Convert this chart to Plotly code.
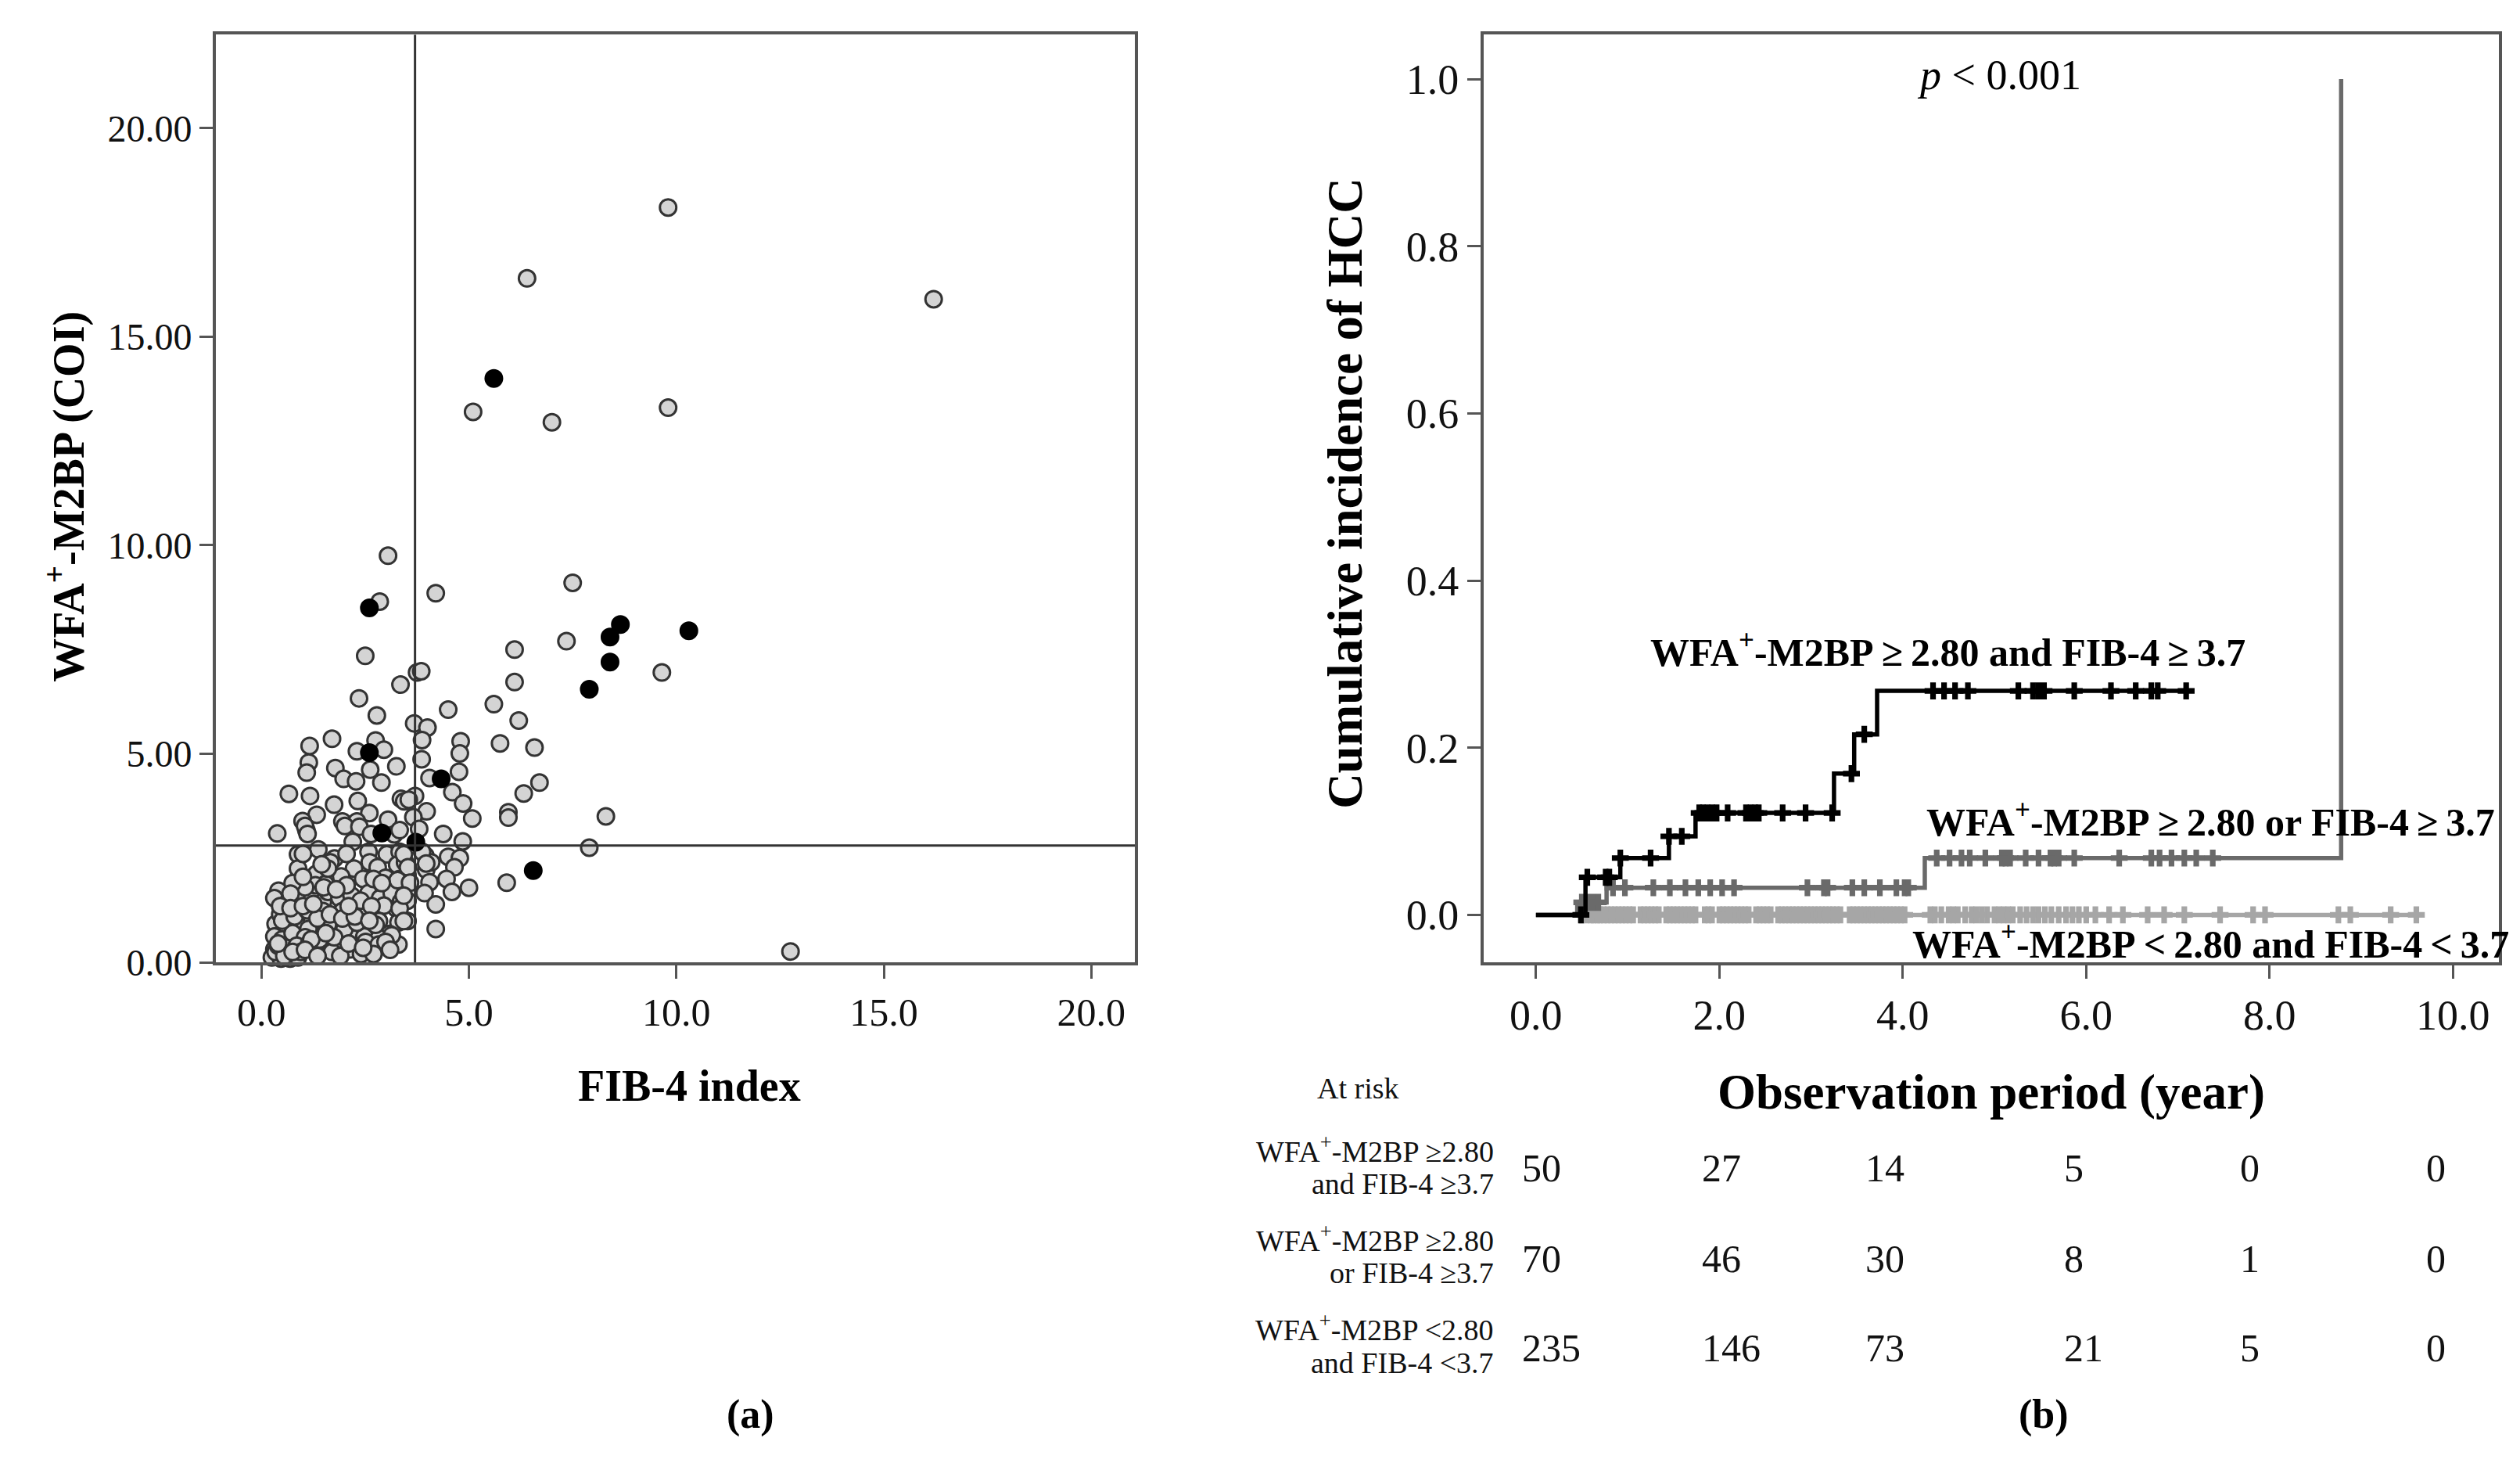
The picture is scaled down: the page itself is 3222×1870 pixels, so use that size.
import numpy as np
import plotly.graph_objects as go

W, H = 3222, 1870
FONT = "Liberation Serif"

# ---------------- Panel (a) data: FIB-4 index vs WFA+-M2BP ----------------
gray_x = [9.8, 6.4, 16.2, 5.1, 7.0, 9.8, 3.05, 4.2, 7.5, 2.85, 7.35, 6.1, 2.5, 3.75, 3.85, 9.65, 6.1, 3.35,
          2.35, 5.6, 4.5, 2.78, 6.2, 3.68, 4.0,
          3.87, 4.8, 1.7, 2.75, 1.16, 5.75, 6.58, 2.95, 2.3, 4.78, 3.86, 3.25, 1.14, 1.09, 1.78, 1.98, 2.28,
          2.62, 2.89, 4.76, 4.05, 6.7, 0.66, 1.17, 1.75, 2.32, 3.36, 3.44, 3.7, 4.6, 4.86, 6.32, 5.95, 5.95,
          8.3, 1.33, 0.99, 2.6, 1.95, 2.3, 3.05, 3.98, 3.66, 5.08, 3.55,
          1.08, 0.38, 1.05, 1.11, 2.01, 2.36, 2.64, 2.2, 3.2, 3.33, 3.8, 4.38, 4.85, 7.9,
          0.88, 1.37, 1.76, 2.58, 3.02, 3.33, 0.88, 1.32, 1.66, 2.23, 2.61, 2.8, 3.27, 1.92, 2.45, 2.99, 3.33,
          1.54, 0.41, 0.31, 0.66, 0.97, 1.22, 1.48, 1.6, 1.88, 2.17, 2.58, 2.86, 3.14, 3.25, 2.95, 0.34, 0.59,
          0.91, 1.22, 1.48, 1.73, 1.95, 2.2, 2.51, 2.83, 3.3, 2.39, 0.56, 0.91, 0.63, 0.31, 1.41, 1.95, 2.2,
          2.48, 3.08, 2.83, 1.13, 0.31, 0.56, 0.81, 1.29, 1.82, 2.14, 2.51, 2.83, 0.25, 0.47, 0.69, 0.88, 0.34,
          3.36, 3.3,
          3.95, 4.5, 4.78, 3.97, 4.65, 4.09, 4.05, 4.46, 3.93, 4.59, 5.0, 4.2, 4.2, 5.91, 3.52, 3.52, 3.52,
          3.46, 3.46, 3.43, 3.87, 3.53, 3.97, 3.28, 3.58, 3.33, 3.43, 3.14, 2.99, 3.43,
          0.5, 0.75, 1.05, 1.6, 1.7, 2.0, 2.3, 2.65, 1.3, 1.05, 0.75, 2.05, 2.7, 1.6, 2.05, 1.0, 0.45, 1.45,
          1.9, 2.4, 2.9, 0.7, 1.15, 1.55, 2.7, 0.4, 1.0,
          0.6, 0.85, 1.15, 1.4, 1.75, 2.1, 2.45, 2.75, 3.1, 0.5, 0.8, 1.1, 1.35, 1.65, 1.95, 2.25, 2.6,
          0.45, 0.7, 1.0, 1.25, 1.5, 1.8, 2.1, 0.55, 0.95, 1.2, 1.55, 0.4, 0.75, 1.05, 1.35,
          12.75]
gray_y = [18.1, 16.4, 15.9, 13.2, 12.95, 13.3, 9.75, 8.85, 9.1, 8.65, 7.7, 7.5, 7.35, 6.95, 6.98, 6.95, 6.72, 6.66,
          6.33, 6.19, 6.06, 5.92, 5.8, 5.73, 5.63,
          5.33, 5.3, 5.36, 5.32, 5.19, 5.25, 5.15, 5.1, 5.06, 5.01, 4.87, 4.7, 4.79, 4.55, 4.66, 4.4, 4.34,
          4.62, 4.31, 4.57, 4.42, 4.31, 4.04, 3.99, 3.78, 3.87, 3.92, 3.86, 3.99, 4.08, 3.81, 4.05, 3.6, 3.47,
          3.5, 3.54, 3.39, 3.58, 3.38, 3.38, 3.42, 3.62, 3.48, 3.45, 3.9,
          3.17, 3.09, 3.27, 3.08, 3.27, 3.25, 3.08, 2.89, 3.07, 3.17, 3.2, 3.08, 2.9, 2.75,
          2.59, 2.71, 2.49, 2.65, 2.59, 2.65, 2.25, 2.12, 2.4, 2.25, 2.4, 2.28, 2.34, 2.06, 2.0, 2.03, 2.0,
          1.88, 1.72, 1.54, 1.48, 1.48, 1.63, 1.45, 1.69, 1.54, 1.6, 1.66, 1.54, 1.66, 1.29, 1.36, 0.92, 1.14,
          1.2, 0.99, 1.23, 0.96, 1.23, 1.29, 1.14, 0.99, 0.96, 1.48, 0.83, 0.49, 0.49, 0.62, 0.65, 0.52, 0.71,
          0.62, 0.68, 0.58, 0.8, 0.31, 0.22, 0.18, 0.34, 0.43, 0.31, 0.49, 0.43, 0.12, 0.09, 0.09, 0.12, 0.25,
          1.45, 0.43,
          2.56, 2.53, 2.5, 2.22, 2.28, 2.4, 1.92, 2.0, 1.66, 1.69, 1.79, 1.39, 0.8, 1.91, 2.09, 1.48, 0.99,
          2.4, 1.92, 2.59, 2.65, 2.28, 2.37, 1.97, 1.91, 1.29, 0.99, 0.65, 0.49, 1.6,
          0.55, 0.7, 0.6, 0.9, 0.25, 0.8, 0.95, 1.35, 1.85, 1.8, 1.9, 1.85, 2.0, 2.25, 2.6, 2.6, 1.15, 2.35,
          0.15, 0.2, 1.9, 1.65, 1.35, 0.7, 0.2, 0.4, 2.05,
          0.35, 0.4, 0.45, 0.55, 0.6, 0.45, 0.35, 0.9, 0.3, 1.0, 1.1, 1.25, 1.05, 1.15, 1.05, 1.1, 1.0,
          1.35, 1.3, 1.35, 1.4, 1.8, 1.75, 1.35, 0.15, 0.25, 0.55, 0.7, 0.45, 0.25, 0.3, 0.15,
          0.26]
black_x = [5.6, 2.6, 8.65, 8.4, 10.3, 8.4, 7.9, 2.6, 4.33, 2.9, 3.72, 6.55]
black_y = [14.0, 8.5, 8.1, 7.8, 7.95, 7.2, 6.55, 5.03, 4.4, 3.1, 2.88, 2.2]

FIB4_CUT = 3.7
M2BP_CUT = 2.80
a_xticks = [0, 5, 10, 15, 20]
a_yticks = [0, 5, 10, 15, 20]

# ---------------- Panel (b) data: cumulative incidence ----------------
g1_times = [0.0, 0.54, 0.92, 1.45, 1.74, 3.25, 3.47, 3.72, 7.10]
g1_vals = [0.0, 0.045, 0.068, 0.094, 0.122, 0.169, 0.216, 0.268, 0.268]
g1_cens = [0.49, 0.56, 0.76, 0.80, 0.92, 1.25, 1.45, 1.59, 1.78, 1.82, 1.87, 1.92, 1.97, 2.09, 2.29,
           2.34, 2.39, 2.43, 2.69, 2.94, 3.23, 3.44, 3.58, 4.33, 4.45, 4.57, 4.71, 5.26, 5.42, 5.48,
           5.54, 5.87, 6.27, 6.54, 6.71, 6.78, 7.09]

g2_times = [0.0, 0.45, 0.77, 4.24, 8.78]
g2_vals = [0.0, 0.015, 0.0325, 0.068, 1.0]
g2_cens = [0.50, 0.56, 0.62, 0.68, 0.84, 0.97, 1.28, 1.46, 1.63, 1.77, 1.90, 2.03, 2.16, 2.96, 3.14,
           3.18, 3.45, 3.58, 3.75, 3.93, 4.02, 4.06, 4.37, 4.51, 4.64, 4.73, 4.90, 5.08, 5.12, 5.17,
           5.34, 5.48, 5.61, 5.65, 5.70, 5.87, 6.36, 6.71, 6.80, 6.93, 7.07, 7.20, 7.38]

g3_times = [0.0, 9.60]
g3_vals = [0.0, 0.0]
g3_cens = [0.50, 0.55, 0.60, 0.63, 0.67, 0.70, 0.74, 0.78, 0.82, 0.86, 0.90, 0.94, 0.98, 1.02, 1.06,
           1.14, 1.18, 1.22, 1.26, 1.30, 1.34, 1.42, 1.46, 1.50, 1.54, 1.58, 1.62, 1.66, 1.70, 1.74,
           1.84, 1.88, 1.92, 2.00, 2.04, 2.08, 2.12, 2.16, 2.20, 2.24, 2.28, 2.32, 2.40, 2.44, 2.48,
           2.52, 2.56, 2.64, 2.68, 2.72, 2.76, 2.80, 2.84, 2.88, 2.92, 2.96, 3.00, 3.04, 3.08, 3.12,
           3.16, 3.20, 3.24, 3.28, 3.32, 3.42, 3.46, 3.50, 3.54, 3.58, 3.62, 3.66, 3.70, 3.74, 3.78,
           3.82, 3.86, 3.90, 3.94, 3.98, 4.02, 4.30, 4.35, 4.42, 4.50, 4.55, 4.60, 4.68, 4.75, 4.80,
           4.86, 4.92, 5.00, 5.05, 5.10, 5.15, 5.20, 5.28, 5.35, 5.42, 5.48, 5.55, 5.62, 5.70, 5.78,
           5.85, 5.92, 6.00, 6.10, 6.25, 6.40, 6.67, 6.85, 7.07, 7.46, 7.82, 7.95, 8.75, 8.88, 9.32, 9.60]

b_xticks = [0, 2, 4, 6, 8, 10]
b_yticks = [0.0, 0.2, 0.4, 0.6, 0.8, 1.0]

risk_times = [0, 2, 4, 6, 8, 10]
risk_g1 = [50, 27, 14, 5, 0, 0]
risk_g2 = [70, 46, 30, 8, 1, 0]
risk_g3 = [235, 146, 73, 21, 5, 0]
risk_labels = [("WFA<sup>+</sup>-M2BP \u22652.80", "and FIB-4 \u22653.7"),
               ("WFA<sup>+</sup>-M2BP \u22652.80", "or FIB-4 \u22653.7"),
               ("WFA<sup>+</sup>-M2BP <2.80", "and FIB-4 <3.7")]

curve_labels = ["WFA<sup>+</sup>-M2BP\u2009\u2265\u20092.80 and FIB-4\u2009\u2265\u20093.7",
                "WFA<sup>+</sup>-M2BP\u2009\u2265\u20092.80 or FIB-4\u2009\u2265\u20093.7",
                "WFA<sup>+</sup>-M2BP\u2009&lt;\u20092.80 and FIB-4\u2009&lt;\u20093.7"]
curve_label_pos = [(4.49, 0.317), (7.36, 0.114), (7.36, -0.032)]

C1, C2, C3 = "#000000", "#6a6a6a", "#a6a6a6"


def px_x(v):
    return v / W


def px_y(v):
    return 1 - v / H


fig = go.Figure()

# panel (a)
fig.add_trace(go.Scatter(x=gray_x, y=gray_y, mode="markers", xaxis="x", yaxis="y",
                         marker=dict(size=21, color="#d4d4d4", line=dict(width=3, color="#333333")),
                         cliponaxis=False, showlegend=False))
fig.add_trace(go.Scatter(x=black_x, y=black_y, mode="markers", xaxis="x", yaxis="y",
                         marker=dict(size=21, color="#000000", line=dict(width=3, color="#000000")),
                         cliponaxis=False, showlegend=False))


def step_at(times, vals, t):
    idx = np.searchsorted(np.array(times), np.array(t), side="right") - 1
    return list(np.array(vals)[np.clip(idx, 0, len(vals) - 1)])


for times, vals, cens, col in [(g3_times, g3_vals, g3_cens, C3),
                               (g2_times, g2_vals, g2_cens, C2),
                               (g1_times, g1_vals, g1_cens, C1)]:
    fig.add_trace(go.Scatter(x=times, y=vals, mode="lines", line=dict(shape="hv", width=5.5, color=col),
                             xaxis="x2", yaxis="y2", showlegend=False))
    fig.add_trace(go.Scatter(x=cens, y=step_at(times, vals, cens), mode="markers",
                             marker=dict(symbol="cross", size=18, color=col),
                             xaxis="x2", yaxis="y2", showlegend=False))

axis_common = dict(showgrid=False, zeroline=False, showline=True, linewidth=4, linecolor="#555555",
                   mirror=True, ticks="outside", ticklen=17, tickwidth=3, tickcolor="#555555")
tick_big = dict(family=FONT, size=54, color="#111111")
tick_left_y = dict(family=FONT, size=48, color="#111111")

top, bottom = 37, 1240
fig.update_layout(
    width=W, height=H, margin=dict(l=0, r=0, t=0, b=0),
    paper_bgcolor="white", plot_bgcolor="white",
    xaxis=dict(domain=[px_x(268), px_x(1443)], range=[-1.1, 21.05], tickvals=a_xticks,
               ticktext=[f"{v:.1f}" for v in a_xticks], anchor="y", tickfont=dict(family=FONT, size=50, color="#111111"),
               **axis_common),
    yaxis=dict(domain=[px_y(bottom), px_y(top)], range=[0, 22.24], tickvals=a_yticks,
               ticktext=[f"{v:.2f}" for v in a_yticks], anchor="x", tickfont=tick_left_y, **axis_common),
    xaxis2=dict(domain=[px_x(1889), px_x(3187)], range=[-0.57, 10.5], tickvals=b_xticks,
                ticktext=[f"{v:.1f}" for v in b_xticks], anchor="y2", tickfont=tick_big, **axis_common),
    yaxis2=dict(domain=[px_y(bottom), px_y(top)], range=[-0.0568, 1.053], tickvals=b_yticks,
                ticktext=[f"{v:.1f}" for v in b_yticks], anchor="x2", tickfont=tick_big, **axis_common),
)

fig.add_shape(type="line", xref="x", yref="y domain", x0=FIB4_CUT, x1=FIB4_CUT, y0=0, y1=1,
              line=dict(color="#333333", width=3))
fig.add_shape(type="line", xref="x domain", yref="y", x0=0, x1=1, y0=M2BP_CUT, y1=M2BP_CUT,
              line=dict(color="#333333", width=3))

ann = []


def A(text, x, y, font, xref="paper", yref="paper", xanchor="center", yanchor="middle", angle=0, xshift=0):
    ann.append(dict(text=text, x=x, y=y, xref=xref, yref=yref, xanchor=xanchor, yanchor=yanchor,
                    showarrow=False, font=font, textangle=angle, xshift=xshift))


A("<b>WFA<sup>+</sup>-M2BP (COI)</b>", px_x(76), px_y(636), dict(family=FONT, size=56, color="black"), angle=-90)
A("<b>FIB-4 index</b>", px_x(873), px_y(1400), dict(family=FONT, size=56, color="black"))
A("<b>Cumulative incidence of HCC</b>", px_x(1712), px_y(632), dict(family=FONT, size=63, color="black"), angle=-90)
A("<b>Observation period (year)</b>", px_x(2538), px_y(1408), dict(family=FONT, size=63, color="black"))
A("<b>(a)</b>", px_x(951), px_y(1826), dict(family=FONT, size=52, color="black"))
A("<b>(b)</b>", px_x(2605), px_y(1826), dict(family=FONT, size=52, color="black"))

A("<i>p</i> &lt; 0.001", 5.05, 1.005, dict(family=FONT, size=54, color="black"), xref="x2", yref="y2")
for lab, (lx, ly) in zip(curve_labels, curve_label_pos):
    A("<b>" + lab + "</b>", lx, ly, dict(family=FONT, size=50, color="black"), xref="x2", yref="y2")

small = dict(family=FONT, size=38, color="#111111")
A("At risk", px_x(1728), px_y(1403), small)
row_line_y = [(1482, 1527), (1598, 1643), (1714, 1759)]
row_num_y = [1507, 1624, 1740]
for (l1, l2), (y1, y2) in zip(risk_labels, row_line_y):
    A(l1, px_x(1904), px_y(y1), small, xanchor="right")
    A(l2, px_x(1904), px_y(y2), small, xanchor="right")
numfont = dict(family=FONT, size=50, color="#111111")
col_shift = [-20, -24, -50, -30, -40, -36]
for counts, ny in zip([risk_g1, risk_g2, risk_g3], row_num_y):
    for t, c, s in zip(risk_times, counts, col_shift):
        A(str(c), t, px_y(ny), numfont, xref="x2", yref="paper", xanchor="left", xshift=s)

fig.update_layout(annotations=ann)
fig.write_html("out.html")
